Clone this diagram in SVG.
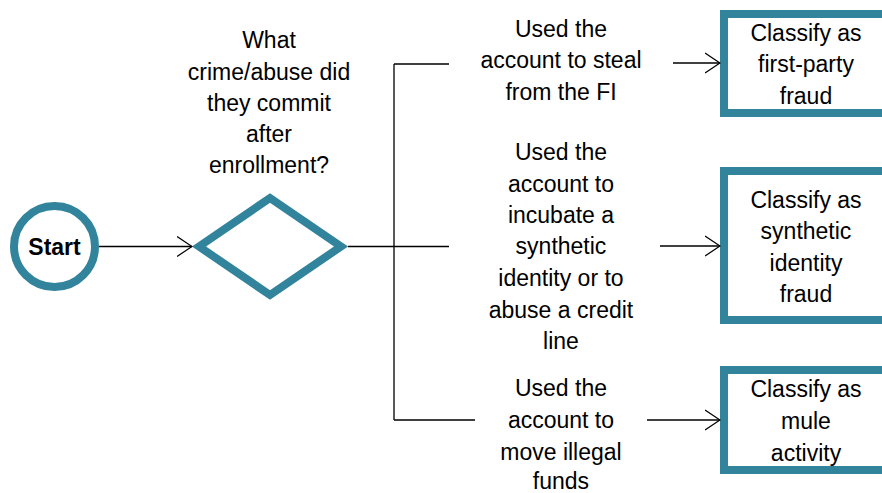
<svg xmlns="http://www.w3.org/2000/svg" width="882" height="493" viewBox="0 0 882 493">
<style>
text{font-family:"Liberation Sans",Arial,sans-serif;font-size:23px;fill:#000;text-anchor:middle}
.shape{fill:#fff;stroke:#31849B;stroke-width:8}
.conn{fill:none;stroke:#000;stroke-width:1.3}
</style>
<defs>
<marker id="arr" viewBox="0 0 16 22" refX="15" refY="11" markerWidth="16" markerHeight="22" markerUnits="userSpaceOnUse" orient="auto">
<path d="M0,1 L15,11 L0,21" fill="none" stroke="#000" stroke-width="1.3"/>
</marker>
</defs>
<rect width="882" height="493" fill="#fff"/>
<g id="start">
<circle class="shape" cx="54.5" cy="246.5" r="40.5"/>
<text x="54.5" y="255" style="font-weight:bold">Start</text>
</g>
<g id="decision">
<polygon class="shape" points="199,246.5 270,198 341,246.5 270,295"/>
<text x="269" y="48">What</text>
<text x="269" y="80">crime/abuse did</text>
<text x="269" y="111">they commit</text>
<text x="269" y="142">after</text>
<text x="269" y="173">enrollment?</text>
</g>
<g id="opt1">
<text x="561" y="37">Used the</text>
<text x="561" y="68">account to steal</text>
<text x="561" y="100">from the FI</text>
</g>
<g id="opt2">
<text x="561" y="160">Used the</text>
<text x="561" y="192">account to</text>
<text x="561" y="223">incubate a</text>
<text x="561" y="254">synthetic</text>
<text x="561" y="286">identity or to</text>
<text x="561" y="318">abuse a credit</text>
<text x="561" y="349">line</text>
</g>
<g id="opt3">
<text x="561" y="396">Used the</text>
<text x="561" y="428">account to</text>
<text x="561" y="460">move illegal</text>
<text x="561" y="489">funds</text>
</g>
<g id="box1">
<rect class="shape" x="724" y="14" width="170" height="99"/>
<text x="806" y="41">Classify as</text>
<text x="806" y="72">first-party</text>
<text x="806" y="104">fraud</text>
</g>
<g id="box2">
<rect class="shape" x="724" y="171" width="170" height="149"/>
<text x="806" y="208">Classify as</text>
<text x="806" y="239">synthetic</text>
<text x="806" y="271">identity</text>
<text x="806" y="302">fraud</text>
</g>
<g id="box3">
<rect class="shape" x="724" y="370" width="170" height="100"/>
<text x="806" y="397">Classify as</text>
<text x="806" y="429">mule</text>
<text x="806" y="461">activity</text>
</g>
<g id="connectors">
<line class="conn" x1="99" y1="246.5" x2="192" y2="246.5" marker-end="url(#arr)"/>
<path class="conn" d="M348,246.5 H449 M394,64 V420 M394,64 H449 M394,420 H475"/>
<line class="conn" x1="673" y1="63" x2="720" y2="63" marker-end="url(#arr)"/>
<line class="conn" x1="660" y1="246" x2="720" y2="246" marker-end="url(#arr)"/>
<line class="conn" x1="647" y1="420" x2="720" y2="420" marker-end="url(#arr)"/>
</g>
</svg>
